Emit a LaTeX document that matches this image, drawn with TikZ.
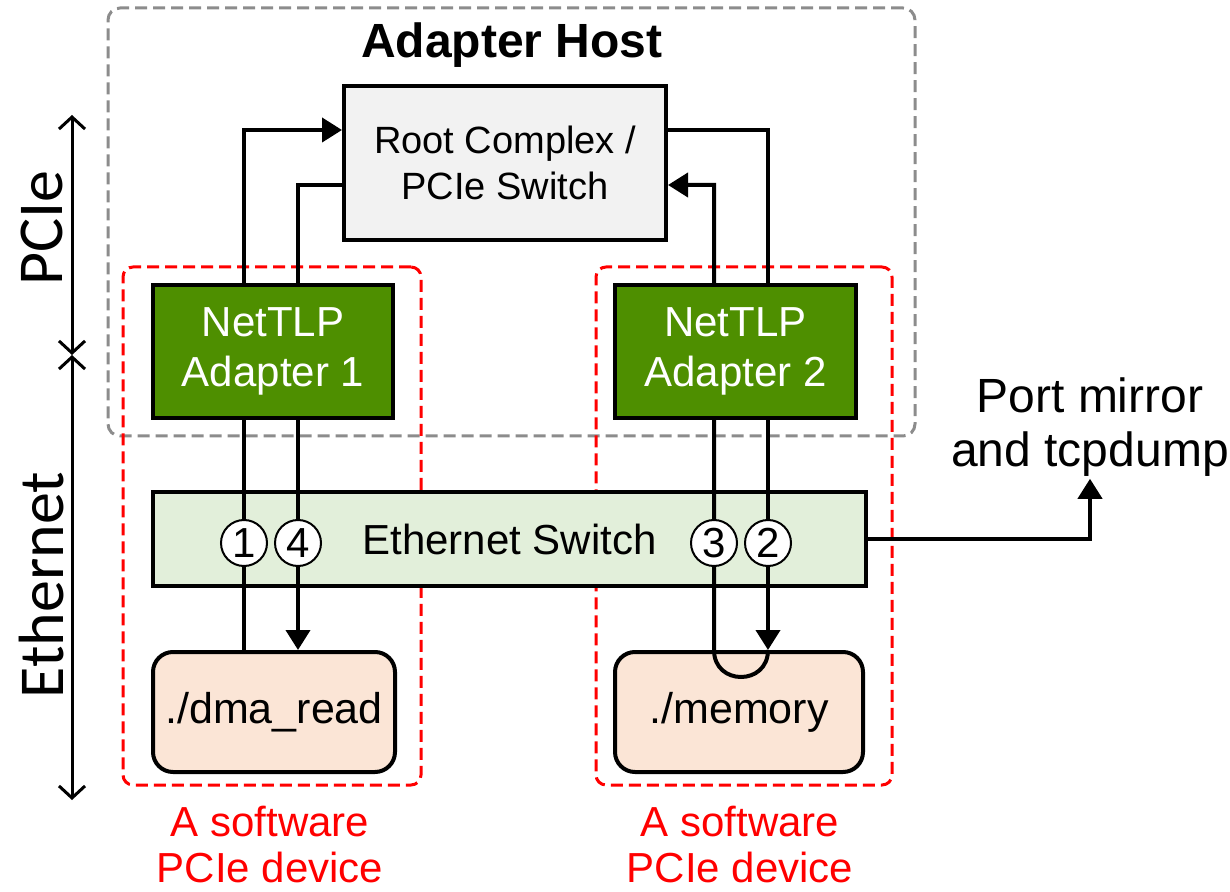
\documentclass[tikz,border=0pt]{standalone}
\usepackage{fontspec}
\setmainfont{Liberation Sans}
\newfontfamily\calibri{Carlito}
\usetikzlibrary{arrows.meta,calc}
\definecolor{netgreen}{RGB}{78,143,0}
\definecolor{ethfill}{RGB}{226,239,218}
\definecolor{rootfill}{RGB}{242,242,242}
\definecolor{appfill}{RGB}{251,229,214}
\definecolor{hostgray}{RGB}{140,140,140}
\tikzset{
  box/.style={draw=black, line width=2pt, inner sep=0pt, align=center},
  rootbox/.style={box, fill=rootfill, minimum width=161pt, minimum height=77pt, font=\fontsize{19}{23}\selectfont},
  adapterbox/.style={box, fill=netgreen, text=white, minimum width=120pt, minimum height=66.5pt, font=\fontsize{21}{25}\selectfont},
  ethbox/.style={box, fill=ethfill, minimum width=356.5pt, minimum height=47pt, font=\fontsize{21}{25}\selectfont},
  appbox/.style={box, fill=appfill, rounded corners=10pt, minimum height=60pt, font=\fontsize{21.5}{25}\selectfont},
  hostbox/.style={draw=hostgray, line width=1.5pt, dash pattern=on 6pt off 3pt, rounded corners=6pt, minimum width=403.5pt, minimum height=214pt, inner sep=0pt},
  devbox/.style={draw=red, line width=1.5pt, dash pattern=on 6pt off 3pt, rounded corners=5pt, minimum height=259pt, inner sep=0pt},
  num/.style={circle, draw=black, fill=white, line width=1pt, minimum size=23pt, inner sep=0pt, font=\fontsize{21}{21}\selectfont},
  arr/.style={line width=2pt, -{Triangle[length=10pt,width=12pt]}},
  span/.style={line width=1.5pt, {Straight Barb[length=6pt,width=13pt]}-{Straight Barb[length=6pt,width=13pt]}},
  redlabel/.style={text=red, align=center, font=\fontsize{21}{23}\selectfont},
  sidelabel/.style={rotate=90, font=\calibri\fontsize{32}{32}\selectfont},
}
\begin{document}
\begin{tikzpicture}[x=0.5pt,y=-0.5pt]
\useasboundingbox (0,0) rectangle (1230,892);
% containers
\node[hostbox] (host) at (511.5,222) {};
\node[devbox, minimum width=149pt] (dev1) at (272,526) {};
\node[devbox, minimum width=148pt] (dev2) at (744,526) {};
\node[font=\bfseries\fontsize{24}{28}\selectfont] (hosttitle) at (512,45) {Adapter Host};
% boxes
\node[rootbox] (root) at (505,163) {Root Complex /\\PCIe Switch};
\node[ethbox] (eth) at (509.5,539) {Ethernet Switch};
\node[appbox, minimum width=121pt] (dma) at (274,712) {./dma\_read};
\node[appbox, minimum width=124pt] (mem) at (739,712) {./memory};
% circle positions
\coordinate (p1) at (244,543);
\coordinate (p4) at (298,543);
\coordinate (p3) at (714,543);
\coordinate (p2) at (768,543);
% connectors
\draw[arr] (dma.north -| p1) |- ([yshift=16.5pt]root.west);
\draw[arr] ([yshift=-11pt]root.west) -| (dma.north -| p4);
\draw[arr] ([yshift=16.5pt]root.east) -| (mem.north -| p2);
\draw[arr] (mem.north -| p2) .. controls +(0,36) and +(0,36) .. (mem.north -| p3) |- ([yshift=-11pt]root.east);
% adapters on top of the lines
\node[adapterbox] (na1) at (273,351.5) {NetTLP\\Adapter 1};
\node[adapterbox, minimum width=120.5pt] (na2) at (735.5,351.5) {NetTLP\\Adapter 2};
% numbers
\node[num] (c1) at (p1) {1};
\node[num] (c4) at (p4) {4};
\node[num] (c3) at (p3) {3};
\node[num] (c2) at (p2) {2};
% port mirror
\node[align=center, font=\fontsize{24}{27}\selectfont, inner sep=1pt] (port) at (1090,427) {Port mirror\\and tcpdump};
\draw[arr] (eth.east) -| (port.south);
% side spans
\coordinate (s1) at (72,115);
\coordinate (s2) at (72,355);
\coordinate (s3) at (72,800);
\draw[span] (s1) -- (s2);
\draw[span] (s2) -- (s3);
\node[sidelabel] (pcie) at (42,228) {PCIe};
\node[sidelabel] (ether) at (42,585) {Ethernet};
% red labels
\node[redlabel] (lab1) at (270,845) {A software\\PCIe device};
\node[redlabel] (lab2) at (740,845) {A software\\PCIe device};
\end{tikzpicture}
\end{document}
